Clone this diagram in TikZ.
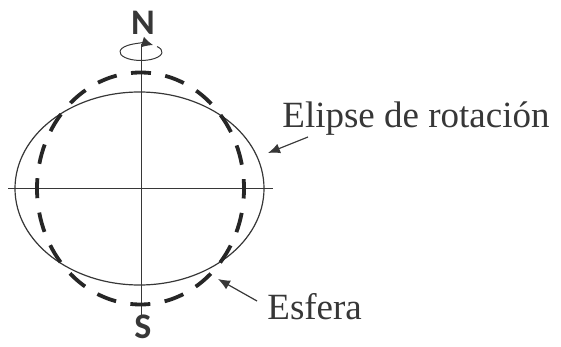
\documentclass[tikz,border=0pt]{standalone}
\usepackage{fontspec}
\setmainfont{Liberation Serif}
\newfontfamily\polofont{Carlito}
\usetikzlibrary{arrows.meta}
\definecolor{trazo}{RGB}{55,55,55}
\tikzset{
    eje/.style={draw=trazo, line width=0.5pt},
    orbita/.style={draw=trazo, line width=0.6pt},
    esferatrazo/.style={draw=black!85, line width=1.9pt, dash pattern=on 10pt off 7.27pt, dash phase=5pt},
    flecha/.style={draw=trazo, line width=0.6pt, -{Latex[length=6pt,width=5pt]}},
    giro/.style={draw=trazo, line width=0.5pt, -{Latex[length=5.5pt,width=5.5pt]}},
    rotulo/.style={font=\fontsize{18.5}{20}\selectfont, text=trazo, inner sep=0pt, anchor=base west},
    polo/.style={font=\polofont\bfseries\fontsize{18}{19}\selectfont, text=trazo, inner sep=0pt, anchor=base}
}

\begin{document}
\begin{tikzpicture}[x=0.5pt, y=-0.5pt]
    \useasboundingbox (0,0) rectangle (561,347);
    % ejes
    \coordinate (centro) at (140.5,188.5);
    \draw[eje] (8,189) -- (273,189);
    \draw[eje] (141,44) -- (141,315);
    % elipse de rotacion y esfera
    \draw[orbita] (139.5,188.5) ellipse (124.5 and 96.5);
    \draw[esferatrazo] (centro) ellipse (103.5 and 116);
    % giro en el polo norte
    \coordinate (giro) at (141,52);
    \draw[giro] (giro) ++(-400:21 and 8.5) arc[start angle=-400, end angle=-55, x radius=21, y radius=8.5];
    % polos
    \node[polo] (norte) at (143,35) {N};
    \node[polo] (sur) at (143,338) {S};
    % rotulos
    \node[rotulo] (elipse) at (282,128) {Elipse de rotación};
    \node[rotulo] (esfera) at (267,319) {Esfera};
    \coordinate (elipsedesde) at (308,137);
    \coordinate (elipsehasta) at (268,153);
    \draw[flecha] (elipsedesde) -- (elipsehasta);
    \coordinate (esferadesde) at (257,301);
    \coordinate (esferahasta) at (218,279);
    \draw[flecha] (esferadesde) -- (esferahasta);
\end{tikzpicture}
\end{document}
